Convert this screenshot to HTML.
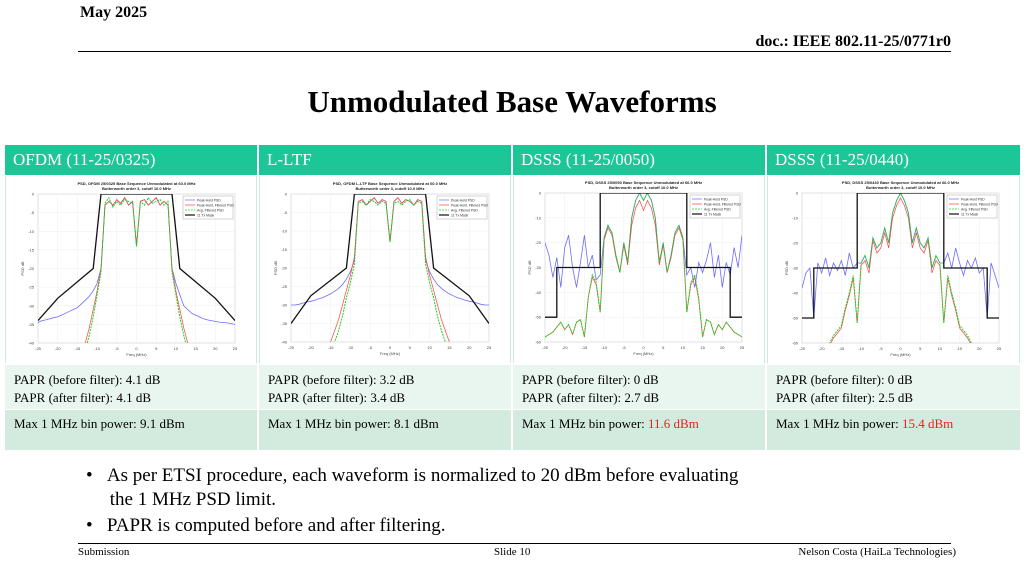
<!DOCTYPE html>
<html><head><meta charset="utf-8">
<style>
body{margin:0;width:1024px;height:576px;overflow:hidden;background:#fff;font-family:"Liberation Serif",serif;position:relative}
.abs{position:absolute}
.hdr{top:145px;height:30px;background:#1dc696;color:#fff;font-size:17px;line-height:30px;padding-left:8px;box-sizing:border-box}
.cc{top:176px;height:187px;background:#fff;border-left:1px solid #cfeadd;border-right:1px solid #cfeadd;box-sizing:border-box}
.r1{top:365px;height:44px;background:#e9f5ef;font-size:13px;line-height:18px;padding:6px 0 0 9px;box-sizing:border-box}
.r2{top:410px;height:40px;background:#d3ebdf;font-size:13px;line-height:28px;padding:0 0 0 9px;box-sizing:border-box}
.red{color:#e8201c}
</style></head><body>
<div class="abs" style="left:80px;top:4px;font-size:16px;font-weight:bold">May 2025</div>
<div class="abs" style="right:73px;top:33px;font-size:16px;font-weight:bold">doc.: IEEE 802.11-25/0771r0</div>
<div class="abs" style="left:78px;top:51px;width:873px;height:1px;background:#000"></div>
<div class="abs" style="left:0;width:1024px;top:84px;text-align:center;font-size:31px;font-weight:bold">Unmodulated Base Waveforms</div>

<div class="abs hdr" style="left:5px;width:252px">OFDM (11-25/0325)</div>
<div class="abs hdr" style="left:259px;width:252px">L-LTF</div>
<div class="abs hdr" style="left:513px;width:252px">DSSS (11-25/0050)</div>
<div class="abs hdr" style="left:767px;width:253px">DSSS (11-25/0440)</div>

<div class="abs cc" style="left:5px;width:252px"></div>
<div class="abs cc" style="left:259px;width:252px"></div>
<div class="abs cc" style="left:513px;width:252px"></div>
<div class="abs cc" style="left:767px;width:253px"></div>

<svg class="abs" id="charts" style="left:0;top:0" width="1024" height="576"></svg>

<div class="abs r1" style="left:5px;width:252px">PAPR (before filter): 4.1 dB<br>PAPR (after filter): 4.1 dB</div>
<div class="abs r1" style="left:259px;width:252px">PAPR (before filter): 3.2 dB<br>PAPR (after filter): 3.4 dB</div>
<div class="abs r1" style="left:513px;width:252px">PAPR (before filter): 0 dB<br>PAPR (after filter): 2.7 dB</div>
<div class="abs r1" style="left:767px;width:253px">PAPR (before filter): 0 dB<br>PAPR (after filter): 2.5 dB</div>
<div class="abs r2" style="left:5px;width:252px">Max 1 MHz bin power: 9.1 dBm</div>
<div class="abs r2" style="left:259px;width:252px">Max 1 MHz bin power: 8.1 dBm</div>
<div class="abs r2" style="left:513px;width:252px">Max 1 MHz bin power: <span class="red">11.6 dBm</span></div>
<div class="abs r2" style="left:767px;width:253px">Max 1 MHz bin power: <span class="red">15.4 dBm</span></div>

<div class="abs" style="left:86px;top:464px;font-size:19px;line-height:24px;width:760px">•&nbsp;&nbsp;&nbsp;As per ETSI procedure, each waveform is normalized to 20 dBm before evaluating<br>&nbsp;&nbsp;&nbsp;&nbsp;&nbsp;the 1 MHz PSD limit.</div>
<div class="abs" style="left:86px;top:514px;font-size:19px;line-height:24px">•&nbsp;&nbsp;&nbsp;PAPR is computed before and after filtering.</div>
<div class="abs" style="left:78px;top:543px;width:873px;height:1px;background:#000"></div>
<div class="abs" style="left:78px;top:546px;font-size:11px">Submission</div>
<div class="abs" style="left:494px;top:546px;font-size:11px">Slide 10</div>
<div class="abs" style="right:68px;top:546px;font-size:11px">Nelson Costa (HaiLa Technologies)</div>

<script>
const freqs=[];for(let f=-25;f<=25;f++)freqs.push(f);
const xTicks=[-25,-20,-15,-10,-5,0,5,10,15,20,25];
const ofdmYTicks=[0,-5,-10,-15,-20,-25,-30,-35,-40];
const dsssYTicks=[0,-10,-20,-30,-40,-50,-60];
const ofdmMaskF=[-25,-20,-11,-9,9,11,20,25];
const ofdmMaskV=[-34,-28,-20,0,0,-20,-28,-34];
const lltfMaskV=[-35,-27.5,-20,0,0,-20,-27.5,-35];
const dsssMaskF=[-25,-22,-22,-11,-11,11,11,22,22,25];
const dsssMaskV=[-50,-50,-30,-30,0,0,-30,-30,-50,-50];
const ofdmBlue=[-34.5,-34,-33.8,-33.5,-33.2,-33,-32.5,-32,-31.5,-31,-30.5,-29.5,-28.5,-27.5,-26,-24,-20,-3,-2,-3,-1.5,-2.5,-1,-3,-2,-14,-2,-1.5,-3,-2,-1,-3,-2,-3,-20,-24,-27,-30,-31,-32,-32.5,-33,-33.5,-33.8,-34,-34.2,-34.4,-34.5,-34.6,-34.8,-35];
const ofdmRed=[-45,-45,-45,-45,-45,-45,-45,-45,-45,-45,-45,-45,-40,-36,-31,-26,-20,-3,-2,-3,-1.5,-2.5,-1,-3,-2,-14,-2,-1.5,-3,-2,-1,-3,-2,-3,-20,-26,-31,-36,-40,-45,-45,-45,-45,-45,-45,-45,-45,-45,-45,-45,-45];
const ofdmGreen=[-45,-45,-45,-45,-45,-45,-45,-45,-45,-45,-45,-45,-42,-38,-33,-27,-21,-2.5,-1,-3.5,-2,-3,-1.5,-2,-2.5,-14,-2,-3,-1,-2.5,-2,-1.5,-3,-2,-21,-27,-33,-38,-42,-45,-45,-45,-45,-45,-45,-45,-45,-45,-45,-45,-45];
const lltfBlue=[-30,-30,-29.8,-29.5,-29.2,-29,-28.7,-28.3,-28,-27.5,-27,-26.3,-25.5,-24.5,-23,-21,-18,-2,-1.5,-3,-2,-1,-2.5,-1.5,-2,-13,-2,-1,-2.5,-1.5,-2,-3,-1.5,-2,-18,-21,-23,-24.5,-25.5,-26.3,-27,-27.5,-28,-28.3,-28.7,-29,-29.2,-29.5,-29.8,-30,-30];
const lltfRed=[-45,-45,-45,-45,-45,-45,-45,-45,-45,-45,-40,-37,-34,-30,-26,-22,-17,-2,-1.5,-3,-2,-1,-2.5,-1.5,-2,-13,-2,-1,-2.5,-1.5,-2,-3,-1.5,-2,-17,-22,-26,-30,-34,-37,-40,-45,-45,-45,-45,-45,-45,-45,-45,-45,-45];
const lltfGreen=[-45,-45,-45,-45,-45,-45,-45,-45,-45,-45,-45,-40,-37,-33,-28,-24,-19,-2.5,-2,-3,-1.5,-2,-3,-2,-2.5,-13,-2.5,-2,-3,-2,-1.5,-3,-2,-2.5,-19,-24,-28,-33,-37,-40,-45,-45,-45,-45,-45,-45,-45,-45,-45,-45,-45];
const d1Blue=[-20,-25,-34,-26,-38,-22,-17,-30,-38,-28,-17,-30,-25,-35,-33,-18,-13,-16,-25,-32,-20,-28,-10,-3,0,-3,0,-3,-10,-28,-20,-32,-25,-16,-13,-18,-33,-30,-38,-28,-32,-27,-20,-34,-25,-38,-28,-33,-22,-30,-17];
const d1Red=[-58,-57,-56,-54,-52,-55,-53,-57,-52,-51,-58,-42,-34,-37,-48,-19,-14,-17,-26,-32,-21,-29,-13,-6,-3,-7,-3,-6,-13,-29,-21,-32,-26,-17,-14,-19,-48,-37,-34,-43,-58,-51,-52,-57,-53,-55,-52,-54,-56,-57,-58];
const d1Green=[-58,-57,-56,-54,-52,-55,-53,-57,-52,-51,-58,-42,-33,-36,-48,-18,-13,-16,-25,-32,-20,-28,-10,-3,0,-3,0,-3,-10,-28,-20,-32,-25,-16,-13,-18,-48,-36,-33,-42,-58,-51,-52,-57,-53,-55,-52,-54,-56,-57,-58];
const d2Blue=[-38,-32,-30,-50,-28,-32,-26,-33,-28,-31,-27,-33,-24,-30,-28,-28,-25,-30,-18,-22,-20,-14,-20,-8,-3,0,-3,-8,-20,-14,-20,-22,-18,-30,-25,-28,-28,-24,-30,-22,-28,-33,-27,-30,-26,-32,-30,-50,-28,-33,-38];
const d2Red=[-65,-65,-65,-65,-65,-65,-65,-61,-58,-56,-54,-47,-41,-34,-52,-29,-27,-32,-19,-24,-22,-16,-22,-10,-5,-2,-5,-10,-22,-16,-22,-24,-19,-32,-27,-29,-52,-34,-41,-47,-54,-56,-58,-61,-65,-65,-65,-65,-65,-65,-65];
const d2Green=[-65,-65,-65,-65,-65,-65,-65,-60,-57,-55,-53,-46,-40,-33,-52,-28,-25,-30,-18,-22,-20,-14,-20,-8,-3,0,-3,-8,-20,-14,-20,-22,-18,-30,-25,-28,-52,-33,-40,-46,-53,-55,-57,-60,-65,-65,-65,-65,-65,-65,-65];

const svg=document.getElementById('charts');
const NS='http://www.w3.org/2000/svg';
function mk(tag,attrs,parent){const e=document.createElementNS(NS,tag);for(const k in attrs)e.setAttribute(k,attrs[k]);(parent||svg).appendChild(e);return e;}

function chart(idx,box,title,ymin,yTicks,maskF,maskV,blue,red,green){
  const [L,T,R,B]=box;
  const g=mk('g',{});
  
  
  const x=f=>L+(f+25)/50*(R-L);
  const y=v=>T+(0-v)/(0-ymin)*(B-T);
  mk('rect',{x:L,y:T,width:R-L,height:B-T,fill:'#fff',stroke:'#bbb','stroke-width':0.6},g);
  const cp=mk('clipPath',{id:'cp'+idx},g);
  mk('rect',{x:L,y:T,width:R-L,height:B-T},cp);
  xTicks.forEach(t=>{
    mk('line',{x1:x(t),x2:x(t),y1:T,y2:B,stroke:'#eee','stroke-width':0.5},g);
    const tx=mk('text',{x:x(t),y:B+7,'font-size':4,'text-anchor':'middle',fill:'#444','font-family':'Liberation Sans'},g);tx.textContent=t;
  });
  yTicks.forEach(t=>{
    mk('line',{x1:L,x2:R,y1:y(t),y2:y(t),stroke:'#eee','stroke-width':0.5},g);
    const tx=mk('text',{x:L-4,y:y(t)+1.5,'font-size':4,'text-anchor':'end',fill:'#444','font-family':'Liberation Sans'},g);tx.textContent=t;
  });
  const xl=mk('text',{x:(L+R)/2,y:B+13,'font-size':4,'text-anchor':'middle',fill:'#444','font-family':'Liberation Sans'},g);xl.textContent='Freq (MHz)';
  const yl=mk('text',{x:L-14,y:(T+B)/2,'font-size':4,'text-anchor':'middle',fill:'#444','font-family':'Liberation Sans',transform:`rotate(-90 ${L-14} ${(T+B)/2})`},g);yl.textContent='PSD dB';
  const t1=mk('text',{x:(L+R)/2,y:T-9,'font-size':4,'font-weight':'bold','text-anchor':'middle',fill:'#222','font-family':'Liberation Sans'},g);t1.textContent=title;
  const t2=mk('text',{x:(L+R)/2,y:T-4,'font-size':4,'font-weight':'bold','text-anchor':'middle',fill:'#222','font-family':'Liberation Sans'},g);t2.textContent='Butterworth order 3, cutoff 10.0 MHz';
  const pl=(fs,vs)=>fs.map((f,i)=>x(f).toFixed(1)+','+y(vs[i]).toFixed(1)).join(' ');
  const cg=mk('g',{'clip-path':`url(#cp${idx})`},g);
  const pb=mk('polyline',{points:pl(freqs,blue),fill:'none',stroke:'#6b6bff','stroke-width':0.8},cg);
  
  const pr=mk('polyline',{points:pl(freqs,red),fill:'none',stroke:'#ff4040','stroke-width':0.7},cg);
  
  const pg=mk('polyline',{points:pl(freqs,green),fill:'none',stroke:'#22cc22','stroke-width':1,'stroke-dasharray':'2,1'},cg);
  
  const pm=mk('polyline',{points:pl(maskF,maskV),fill:'none',stroke:'#111','stroke-width':1.3},cg);
  
  const lg=mk('g',{},g);
  
  const lx=R-52,ly=T+2;
  mk('rect',{x:lx,y:ly,width:50,height:23,fill:'#fff',stroke:'#999','stroke-width':0.4},lg);
  const items=[['Peak-Hold PSD','#6b6bff',''],['Peak-Hold, Filtered PSD','#ff4040',''],['Avg. Filtered PSD','#22cc22','2,1'],['11 Tx Mask','#111','']];
  items.forEach((it,i)=>{
    const yy=ly+4+i*5;
    mk('line',{x1:lx+2,x2:lx+12,y1:yy,y2:yy,stroke:it[1],'stroke-width':i==3?1.2:0.7,'stroke-dasharray':it[2]},lg);
    const tt=mk('text',{x:lx+14,y:yy+1.3,'font-size':3.4,fill:'#333','font-family':'Liberation Sans'},lg);tt.textContent=it[0];
  });
}
chart(1,[38,194,235,343],'PSD, OFDM 25/0325 Base Sequence Unmodulated at 60.0 MHz',-40,ofdmYTicks,ofdmMaskF,ofdmMaskV,ofdmBlue,ofdmRed,ofdmGreen);
chart(2,[291,194,489,342],'PSD, OFDM L-LTF Base Sequence Unmodulated at 60.0 MHz',-40,ofdmYTicks,ofdmMaskF,lltfMaskV,lltfBlue,lltfRed,lltfGreen);
chart(3,[545,193,742,342],'PSD, DSSS 25/0050 Base Sequence Unmodulated at 66.0 MHz',-60,dsssYTicks,dsssMaskF,dsssMaskV,d1Blue,d1Red,d1Green);
chart(4,[802,193,999,343],'PSD, DSSS 25/0440 Base Sequence Unmodulated at 66.0 MHz',-60,dsssYTicks,dsssMaskF,dsssMaskV,d2Blue,d2Red,d2Green);
</script>
</body></html>
